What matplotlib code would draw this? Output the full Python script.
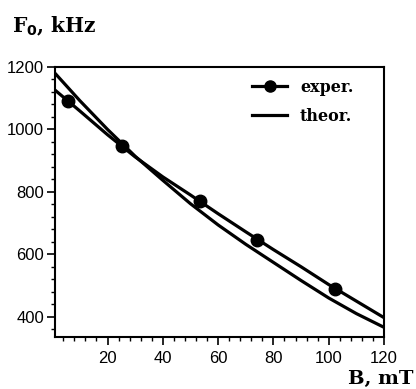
import matplotlib
matplotlib.use("Agg")
import matplotlib.pyplot as plt
from matplotlib.lines import Line2D
from matplotlib.ticker import MultipleLocator

# measured points (B in mT, F0 in kHz)
exper_B = [5.7, 25.1, 53.5, 74.0, 102.4]
exper_F = [1090, 946, 770, 647, 490]

# smooth curve drawn through the experimental points
exper_curve_B = [1, 10, 20, 30, 40, 50, 60, 70, 80, 90, 100, 110, 120]
exper_curve_F = [1126, 1059, 983, 912, 848, 790, 730, 672, 615, 560, 503, 450, 397]

# theoretical curve
theor_B = [1, 10, 20, 30, 40, 50, 60, 70, 80, 90, 100, 110, 120]
theor_F = [1180, 1092, 1000, 914, 837, 762, 694, 632, 574, 516, 460, 410, 366]

x_ticks = [20, 40, 60, 80, 100, 120]
y_ticks = [400, 600, 800, 1000, 1200]

fig = plt.figure(figsize=(4.16, 3.89), dpi=100)
ax = fig.add_axes([55 / 416, 1 - 337 / 389, (384 - 55) / 416, (337 - 67) / 389])

lw = 2.3
ax.plot(exper_curve_B, exper_curve_F, color="black", lw=lw, solid_capstyle="butt")
ax.plot(exper_B, exper_F, "o", color="black", ms=9)
ax.plot(theor_B, theor_F, color="black", lw=lw, solid_capstyle="butt")

ax.set_xlim(1, 120)
ax.set_ylim(335, 1200)
ax.set_xticks(x_ticks)
ax.set_yticks(y_ticks)
ax.xaxis.set_minor_locator(MultipleLocator(4))
ax.yaxis.set_minor_locator(MultipleLocator(40))

tick_font = {"family": "Liberation Sans", "size": 12}
ax.set_xticklabels([str(v) for v in x_ticks], **tick_font)
ax.set_yticklabels([str(v) for v in y_ticks], **tick_font)
ax.tick_params(which="major", direction="out", length=6, width=1.2, pad=2, colors="black")
ax.tick_params(which="minor", direction="out", length=3, width=1.0)
ax.tick_params(axis="x", which="major", pad=4)
for s in ax.spines.values():
    s.set_linewidth(1.5)

handles = [
    Line2D([], [], color="black", lw=lw, marker="o", ms=8),
    Line2D([], [], color="black", lw=lw),
]
ax.legend(handles, ["exper.", "theor."], loc="upper left",
          bbox_to_anchor=(252 / 416, 1 - 79 / 389), bbox_transform=fig.transFigure,
          frameon=False, handlelength=2.2, handletextpad=0.8, labelspacing=0.75,
          borderaxespad=0, borderpad=0,
          prop={"family": "DejaVu Serif", "weight": "bold", "size": 11.5})

fig.text(12 / 416, 1 - 32 / 389, r"F$_\mathbf{0}$, kHz", family="DejaVu Serif",
         weight="bold", fontsize=14.5, ha="left", va="baseline")
fig.text(413 / 416, 1 - 384 / 389, "B, mT", family="DejaVu Serif",
         weight="bold", fontsize=14, ha="right", va="baseline")

fig.savefig("out.png", dpi=100)
